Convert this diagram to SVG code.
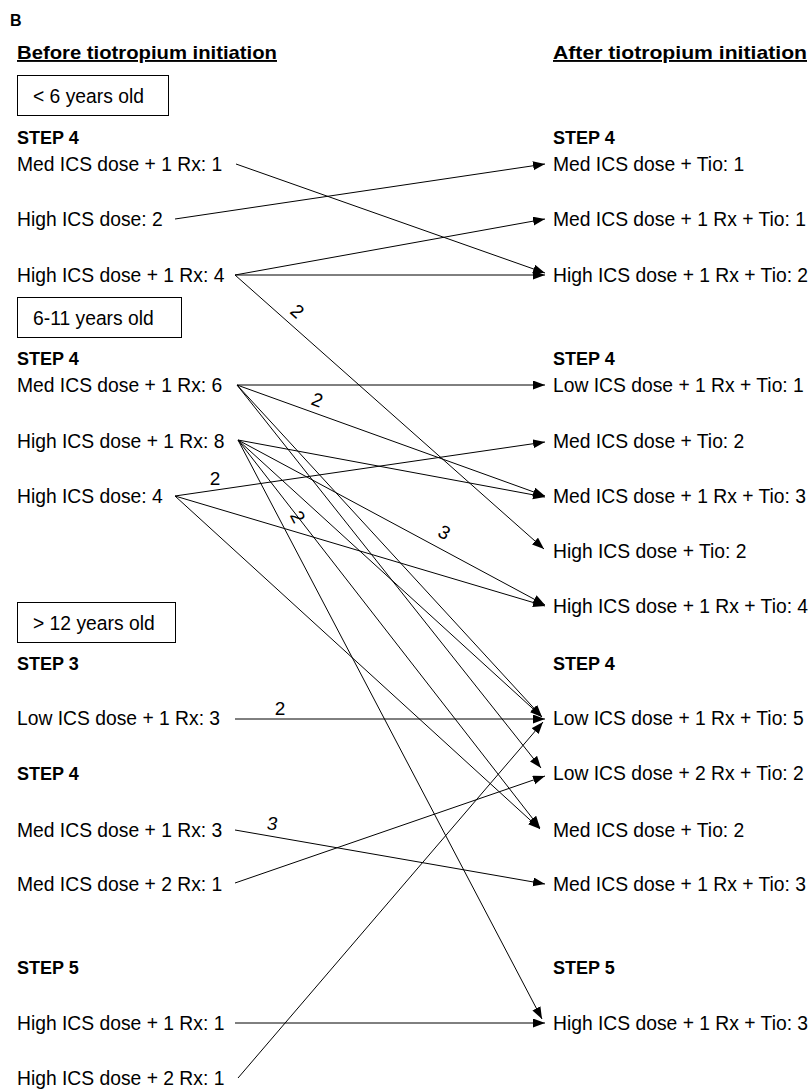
<svg xmlns="http://www.w3.org/2000/svg" width="812" height="1089" viewBox="0 0 812 1089">
<defs>
<marker id="ah" markerWidth="13" markerHeight="10" refX="12" refY="4.5" orient="auto" markerUnits="userSpaceOnUse">
<path d="M0,0 L12,4.5 L0,9 z" fill="#000"/>
</marker>
<style>
text{font-family:"Liberation Sans",Arial,sans-serif;fill:#000}
.t{font-size:19.3px}
.s{font-size:18px;font-weight:bold}
.h{font-size:19px;font-weight:bold;text-decoration:underline}
.n{font-size:19px}
.box{fill:#fff;stroke:#000;stroke-width:1}
#connectors line{stroke:#000;stroke-width:1;fill:none}
#connectors line.a{marker-end:url(#ah)}
</style>
</defs>
<rect width="812" height="1089" fill="#fff"/>
<g id="title">
<text x="10" y="26" style="font-size:16px;font-weight:bold">B</text>
<text class="h" x="17" y="59" textLength="260" lengthAdjust="spacingAndGlyphs">Before tiotropium initiation</text>
<text class="h" x="553" y="59" textLength="254" lengthAdjust="spacingAndGlyphs">After tiotropium initiation</text>
</g>
<g id="age-lt6"><rect class="box" x="17.5" y="75.5" width="151" height="40"/><text class="t" x="33" y="103">&lt; 6 years old</text></g>
<g id="age-6-11"><rect class="box" x="17.5" y="297.5" width="164" height="40"/><text class="t" x="33" y="325">6-11 years old</text></g>
<g id="age-gt12"><rect class="box" x="17.5" y="602.5" width="158" height="40"/><text class="t" x="33" y="630">&gt; 12 years old</text></g>
<g id="left">
<g id="l-step4a"><text class="s" x="17" y="144">STEP 4</text></g>
<g id="l1"><text class="t" x="17" y="171">Med ICS dose + 1 Rx: 1</text></g>
<g id="l2"><text class="t" x="17" y="226">High ICS dose: 2</text></g>
<g id="l3"><text class="t" x="17" y="282">High ICS dose + 1 Rx: 4</text></g>
<g id="l-step4b"><text class="s" x="17" y="365">STEP 4</text></g>
<g id="l4"><text class="t" x="17" y="392">Med ICS dose + 1 Rx: 6</text></g>
<g id="l5"><text class="t" x="17" y="448">High ICS dose + 1 Rx: 8</text></g>
<g id="l6"><text class="t" x="17" y="503">High ICS dose: 4</text></g>
<g id="l-step3"><text class="s" x="17" y="670">STEP 3</text></g>
<g id="l7"><text class="t" x="17" y="725">Low ICS dose + 1 Rx: 3</text></g>
<g id="l-step4c"><text class="s" x="17" y="780">STEP 4</text></g>
<g id="l8"><text class="t" x="17" y="837">Med ICS dose + 1 Rx: 3</text></g>
<g id="l9"><text class="t" x="17" y="891">Med ICS dose + 2 Rx: 1</text></g>
<g id="l-step5"><text class="s" x="17" y="974">STEP 5</text></g>
<g id="l10"><text class="t" x="17" y="1030">High ICS dose + 1 Rx: 1</text></g>
<g id="l11"><text class="t" x="17" y="1085">High ICS dose + 2 Rx: 1</text></g>
</g>
<g id="right">
<g id="r-step4a"><text class="s" x="553" y="144">STEP 4</text></g>
<g id="r1"><text class="t" x="553" y="171">Med ICS dose + Tio: 1</text></g>
<g id="r2"><text class="t" x="553" y="226">Med ICS dose + 1 Rx + Tio: 1</text></g>
<g id="r3"><text class="t" x="553" y="282">High ICS dose + 1 Rx + Tio: 2</text></g>
<g id="r-step4b"><text class="s" x="553" y="365">STEP 4</text></g>
<g id="r4"><text class="t" x="553" y="392">Low ICS dose + 1 Rx + Tio: 1</text></g>
<g id="r5"><text class="t" x="553" y="448">Med ICS dose + Tio: 2</text></g>
<g id="r6"><text class="t" x="553" y="503">Med ICS dose + 1 Rx + Tio: 3</text></g>
<g id="r7"><text class="t" x="553" y="558">High ICS dose + Tio: 2</text></g>
<g id="r8"><text class="t" x="553" y="613">High ICS dose + 1 Rx + Tio: 4</text></g>
<g id="r-step4c"><text class="s" x="553" y="670">STEP 4</text></g>
<g id="r9"><text class="t" x="553" y="725">Low ICS dose + 1 Rx + Tio: 5</text></g>
<g id="r10"><text class="t" x="553" y="780">Low ICS dose + 2 Rx + Tio: 2</text></g>
<g id="r11"><text class="t" x="553" y="837">Med ICS dose + Tio: 2</text></g>
<g id="r12"><text class="t" x="553" y="891">Med ICS dose + 1 Rx + Tio: 3</text></g>
<g id="r-step5"><text class="s" x="553" y="974">STEP 5</text></g>
<g id="r13"><text class="t" x="553" y="1030">High ICS dose + 1 Rx + Tio: 3</text></g>
</g>
<g id="connectors">
<line class="a" x1="236" y1="164" x2="545" y2="273"/>
<line class="a" x1="175" y1="219" x2="545" y2="164"/>
<line class="a" x1="235" y1="275" x2="545" y2="219"/>
<line class="a" x1="235" y1="275" x2="545" y2="275"/>
<line class="a" x1="235" y1="275" x2="544" y2="549"/>
<line class="a" x1="237" y1="385" x2="545" y2="385"/>
<line class="a" x1="237" y1="385" x2="545" y2="496"/>
<line class="a" x1="237" y1="385" x2="542" y2="717"/>
<line class="a" x1="237" y1="385" x2="541" y2="768"/>
<line class="a" x1="238" y1="440" x2="545" y2="497"/>
<line class="a" x1="238" y1="440" x2="545" y2="605"/>
<line class="a" x1="238" y1="440" x2="542" y2="717"/>
<line class="a" x1="238" y1="440" x2="540" y2="828"/>
<line class="a" x1="238" y1="440" x2="542" y2="1019"/>
<line class="a" x1="175" y1="496" x2="545" y2="442"/>
<line class="a" x1="175" y1="496" x2="545" y2="606"/>
<line class="a" x1="175" y1="496" x2="540" y2="829"/>
<line class="a" x1="235" y1="719" x2="545" y2="719"/>
<line class="a" x1="235" y1="830" x2="545" y2="884"/>
<line class="a" x1="235" y1="883" x2="545" y2="776"/>
<line class="a" x1="235" y1="1023" x2="545" y2="1023"/>
<line class="a" x1="238" y1="1078" x2="543" y2="722"/>
<g id="counts">
<text class="n" transform="translate(293,316) rotate(42)" text-anchor="middle">2</text>
<text class="n" transform="translate(315,406) rotate(20)" text-anchor="middle">2</text>
<text class="n" x="215" y="485" text-anchor="middle">2</text>
<text class="n" transform="translate(292,520) rotate(62)" text-anchor="middle">2</text>
<text class="n" transform="translate(441,538) rotate(29)" text-anchor="middle">3</text>
<text class="n" x="280" y="715" text-anchor="middle">2</text>
<text class="n" x="272" y="830" text-anchor="middle" font-style="italic">3</text>
</g>
</g>
</svg>
